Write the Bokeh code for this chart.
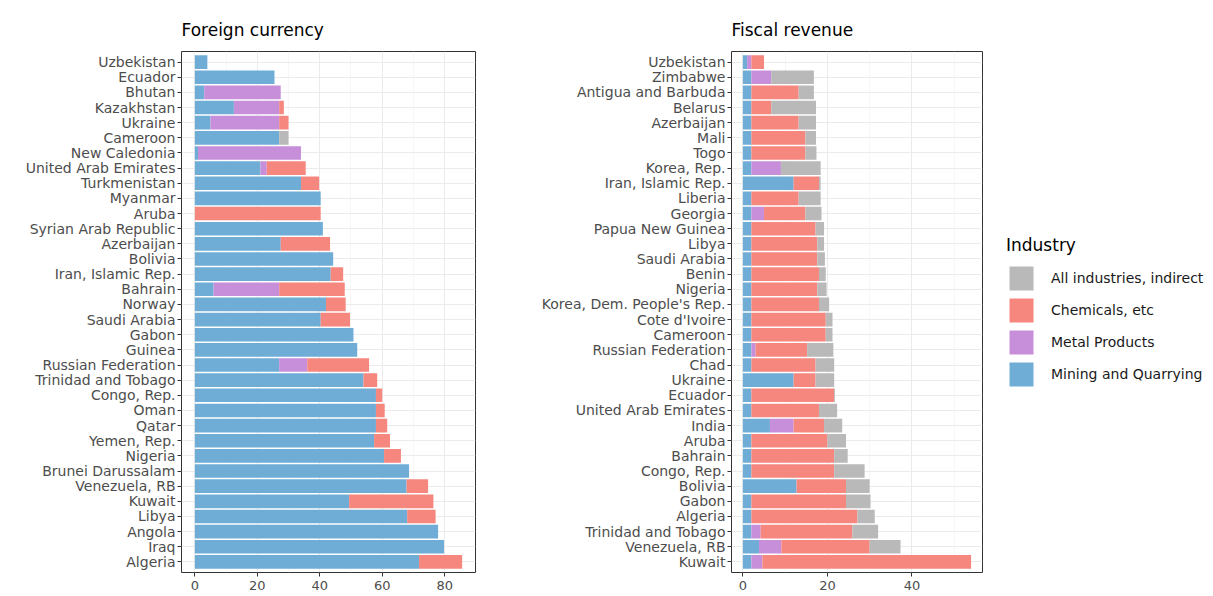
from bokeh.plotting import figure
from bokeh.layouts import row
from bokeh.models import (Range1d, FactorRange, Legend, LegendItem, FixedTicker,
                          ColumnDataSource)
from bokeh.embed import file_html
from bokeh.resources import INLINE

# ---------------- data ----------------
industries = ["Mining and Quarrying", "Metal Products", "Chemicals, etc", "All industries, indirect"]
colors = ["#6FADD7", "#C78FDA", "#F5877E", "#B9B9B9"]

fc_countries = ["Uzbekistan", "Ecuador", "Bhutan", "Kazakhstan", "Ukraine", "Cameroon",
                "New Caledonia", "United Arab Emirates", "Turkmenistan", "Myanmar", "Aruba",
                "Syrian Arab Republic", "Azerbaijan", "Bolivia", "Iran, Islamic Rep.", "Bahrain",
                "Norway", "Saudi Arabia", "Gabon", "Guinea", "Russian Federation",
                "Trinidad and Tobago", "Congo, Rep.", "Oman", "Qatar", "Yemen, Rep.", "Nigeria",
                "Brunei Darussalam", "Venezuela, RB", "Kuwait", "Libya", "Angola", "Iraq", "Algeria"]
fc_mining = [4, 25.5, 3, 12.5, 5, 27, 1, 21, 34, 40.3, 0, 41, 27.5, 44.3, 43.5, 6, 42, 40.3,
             50.8, 52, 27, 54, 58, 58, 58, 57.4, 60.6, 68.6, 67.8, 49.4, 68, 77.9, 79.8, 71.8]
fc_metal = [0, 0, 24.5, 14.5, 22, 0, 33, 2, 0, 0, 0, 0, 0, 0, 0, 21, 0, 0,
            0, 0, 9, 0, 0, 0, 0, 0, 0, 0, 0, 0, 0, 0, 0, 0]
fc_chem = [0, 0, 0, 1.5, 3, 0, 0, 12.5, 5.8, 0, 40.3, 0, 15.8, 0, 4, 21, 6.3, 9.4,
           0, 0, 19.8, 4.4, 2, 2.8, 3.6, 5.1, 5.4, 0, 6.9, 27, 9.1, 0, 0, 13.8]
fc_all = [0, 0, 0, 0, 0, 3, 0, 0, 0, 0, 0, 0, 0, 0, 0, 0, 0, 0,
          0, 0, 0, 0, 0, 0, 0, 0, 0, 0, 0, 0, 0, 0, 0, 0]
fc_ticks = [0, 20, 40, 60, 80]
fc_minor = [10, 30, 50, 70]

fr_countries = ["Uzbekistan", "Zimbabwe", "Antigua and Barbuda", "Belarus", "Azerbaijan", "Mali",
                "Togo", "Korea, Rep.", "Iran, Islamic Rep.", "Liberia", "Georgia",
                "Papua New Guinea", "Libya", "Saudi Arabia", "Benin", "Nigeria",
                "Korea, Dem. People's Rep.", "Cote d'Ivoire", "Cameroon", "Russian Federation",
                "Chad", "Ukraine", "Ecuador", "United Arab Emirates", "India", "Aruba", "Bahrain",
                "Congo, Rep.", "Bolivia", "Gabon", "Algeria", "Trinidad and Tobago",
                "Venezuela, RB", "Kuwait"]
fr_mining = [1, 2, 2, 2, 2, 2, 2, 2, 12, 2, 2, 2, 2, 2, 2, 2, 2, 2, 2, 2,
             2, 12, 2, 2, 6.4, 2, 2, 2, 12.7, 2, 2, 2, 3.8, 2]
fr_metal = [1, 4.7, 0, 0, 0, 0, 0, 7, 0, 0, 3, 0, 0, 0, 0, 0, 0, 0, 0, 1,
            0, 0, 0, 0, 5.6, 0, 0, 0, 0, 0, 0, 2.2, 5.3, 2.6]
fr_chem = [3, 0, 11.2, 4.7, 11.2, 12.8, 12.8, 0, 6, 11.2, 9.8, 15.2, 15.6, 15.6, 16, 15.6,
           16, 17.6, 17.6, 12.2, 15.2, 5.2, 19.6, 16, 7.2, 18, 19.6, 19.6, 11.7, 22.4, 25.1,
           21.7, 20.9, 49.4]
fr_all = [0, 10.1, 3.6, 10.6, 4.1, 2.5, 2.6, 9.4, 0.4, 5.2, 3.8, 2, 1.6, 1.8, 1.6, 2.2,
          2.4, 1.6, 1.6, 6.2, 4.4, 4.4, 0.2, 4.3, 4.3, 4.4, 3.2, 7.2, 5.6, 5.8, 4.1, 6.1,
          7.3, 0]
fr_ticks = [0, 20, 40]
fr_minor = [10, 30, 50]

FONT = "DejaVu Sans"
FRAME_H = 521


def make_panel(title, countries, mining, metal, chem, allind, ticks, minor,
               frame_w, left_border, right_border):
    totals = [a + b + c + d for a, b, c, d in zip(mining, metal, chem, allind)]
    xmax = max(totals)
    factors = list(reversed(countries))
    p = figure(y_range=FactorRange(factors=factors, range_padding=0.2,
                                   range_padding_units="absolute"),
               x_range=Range1d(-0.05 * xmax, 1.05 * xmax),
               frame_width=frame_w, frame_height=FRAME_H,
               min_border_left=left_border, min_border_right=right_border,
               min_border_top=51, min_border_bottom=24,
               output_backend="svg", toolbar_location=None, title=title)
    src = ColumnDataSource(dict(country=countries, mining=mining, metal=metal,
                                chem=chem, allind=allind))
    rs = p.hbar_stack(["mining", "metal", "chem", "allind"], y="country", height=0.9,
                      color=colors, line_color=None, source=src)
    p.background_fill_color = "white"
    p.border_fill_color = "white"
    p.outline_line_color = "#333333"
    p.outline_line_width = 1

    p.title.text_font = FONT
    p.title.text_font_size = "17px"
    p.title.text_font_style = "normal"
    p.title.text_color = "black"
    p.title.align = "left"
    p.title.standoff = 24

    p.xaxis.ticker = FixedTicker(ticks=ticks, minor_ticks=minor)
    for ax in (p.xaxis[0], p.yaxis[0]):
        ax.axis_line_color = None
        ax.major_tick_line_color = "#333333"
        ax.major_tick_out = 4
        ax.major_tick_in = 0
        ax.minor_tick_line_color = None
        ax.major_label_text_font = FONT
        ax.major_label_text_color = "#4D4D4D"
        ax.major_label_standoff = 2
    p.xaxis.major_label_standoff = 4
    p.xaxis.major_label_text_font_size = "13px"
    p.yaxis.major_label_text_font_size = "14px"

    p.xgrid.grid_line_color = "#EBEBEB"
    p.xgrid.grid_line_width = 1
    p.xgrid.minor_grid_line_color = "#F2F2F2"
    p.xgrid.minor_grid_line_width = 0.6
    p.ygrid.grid_line_color = "#EBEBEB"
    p.ygrid.grid_line_width = 1
    return p, rs


p1, rs1 = make_panel("Foreign currency", fc_countries, fc_mining, fc_metal, fc_chem, fc_all,
                     fc_ticks, fc_minor, 294, 181, 10)
p2, rs2 = make_panel("Fiscal revenue", fr_countries, fr_mining, fr_metal, fr_chem, fr_all,
                     fr_ticks, fr_minor, 251, 246, 0)

items = [LegendItem(label=industries[i], renderers=[rs2[i]]) for i in [3, 2, 1, 0]]
legend = Legend(items=items, title="Industry", location="center_left",
                orientation="vertical")
legend.title_text_font = FONT
legend.title_text_font_size = "17px"
legend.title_text_font_style = "normal"
legend.title_text_color = "black"
legend.title_standoff = 8
legend.label_text_font = FONT
legend.label_text_font_size = "14px"
legend.label_text_color = "#1A1A1A"
legend.glyph_width = 30
legend.glyph_height = 30
legend.spacing = 2
legend.label_standoff = 15
legend.padding = 4
legend.margin = 24
legend.border_line_color = None
legend.background_fill_color = None
p2.add_layout(legend, "right")

layout = row(p1, p2)
open("out.html", "w").write(file_html(layout, INLINE))
